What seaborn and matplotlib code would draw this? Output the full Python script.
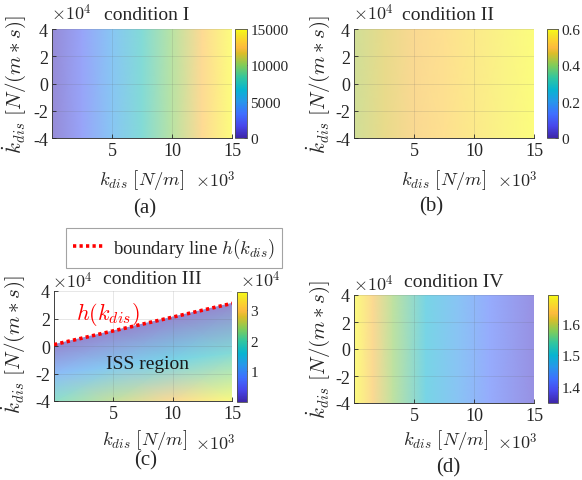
import numpy as np
import matplotlib
matplotlib.use("Agg")
import matplotlib.pyplot as plt
import seaborn as sns
from matplotlib.colors import LinearSegmentedColormap, Normalize
import matplotlib.cm as cm

sns.set_theme(style="white")
plt.rcParams['font.family'] = ['Liberation Serif', 'DejaVu Serif']
plt.rcParams['mathtext.fontset'] = 'cm'

# ---------------- data ----------------
kdot_nodes = [-40000, 40000]

# condition I
cond1_k = [0, 2500, 5000, 7500, 10000, 12500, 15000]
cond1_vals = [300, 2500, 5000, 7500, 10000, 12500, 15000]
# condition II
cond2_k = [0, 2500, 5000, 7500, 10000, 12500, 15000]
cond2_vals = [0.43, 0.46, 0.49, 0.52, 0.55, 0.575, 0.60]
# condition III
cond3_k = [0, 5000, 10000, 15000]
boundary_h = [1000, 11000, 21000, 31000]
cond3_mid_kdot = [-20000, -15000, -10000, -5000]
cond3_bottom = [20000, 25000, 30000, 35500]
cond3_mid = [10500, 13000, 15500, 18000]
cond3_top = [0, 0, 0, 0]
# condition IV
cond4_k = [0, 1600, 3250, 6000, 8800, 11300, 15000]
cond4_vals = [1.69, 1.63, 1.58, 1.50, 1.46, 1.42, 1.37]

clims = {"I": (0, 15000), "II": (0, 0.6), "III": (0, 36000), "IV": (1.35, 1.69)}
cbar_ticks = {"I": [0, 5000, 10000, 15000], "II": [0, 0.2, 0.4, 0.6],
              "III": [10000, 20000, 30000], "IV": [1.4, 1.5, 1.6]}
cbar_labels = {"I": ["0", "5000", "10000", "15000"], "II": ["0", "0.2", "0.4", "0.6"],
               "III": ["1", "2", "3"], "IV": ["1.4", "1.5", "1.6"]}
x_ticks = [5000, 10000, 15000]
x_ticklabels = ["5", "10", "15"]
y_ticks = [-40000, -20000, 0, 20000, 40000]
y_ticklabels = ["-4", "-2", "0", "2", "4"]

# ---------------- colormap (parula-like) ----------------
par_pos = [0.0, 0.111, 0.222, 0.333, 0.444, 0.556, 0.667, 0.778, 0.83, 0.89, 0.95, 1.0]
par_col = [(0.2422, 0.1504, 0.6603), (0.2803, 0.2782, 0.9221), (0.2440, 0.4358, 0.9988),
           (0.1540, 0.5902, 0.9218), (0.0297, 0.7082, 0.8163), (0.1938, 0.7758, 0.6251),
           (0.5044, 0.7993, 0.3480), (0.8634, 0.7406, 0.1596), (0.99, 0.73, 0.24),
           (0.9892, 0.8136, 0.1885), (0.96, 0.90, 0.15), (0.9769, 0.9839, 0.0805)]
parula = LinearSegmentedColormap.from_list("parula", list(zip(par_pos, par_col)))
ALPHA = 0.55
wash_col = [tuple(ALPHA * c + (1 - ALPHA) for c in col) for col in par_col]
parula_wash = LinearSegmentedColormap.from_list("parula_w", list(zip(par_pos, wash_col)))

W, H = 582, 481
fig = plt.figure(figsize=(W / 100, H / 100), dpi=100)


def fpos(l, t, r, b):
    return [l / W, 1 - b / H, (r - l) / W, (b - t) / H]


def ftext(x, y, s, **kw):
    fig.text(x / W, 1 - y / H, s, ha='center', va='center', **kw)


FS_T = 13
FS_CB = 11
FS_XL = 13.5
FS_YL = 15
FS_TITLE = 14


def style_axes(ax):
    ax.set_xlim(0, 15000)
    ax.set_ylim(-40000, 40000)
    ax.set_xticks(x_ticks)
    ax.set_xticklabels(x_ticklabels)
    ax.set_yticks(y_ticks)
    ax.set_yticklabels(y_ticklabels)
    ax.tick_params(bottom=True, left=True, direction='in', length=3, width=0.6,
                   labelsize=FS_T, colors='0.15', pad=3)
    for s in ['top', 'right']:
        ax.spines[s].set_visible(False)
    for s in ['left', 'bottom']:
        ax.spines[s].set_color('0.25')
        ax.spines[s].set_linewidth(0.7)
    ax.grid(True, color='0.4', alpha=0.18, lw=0.6)
    ax.set_axisbelow(False)
    ax.set_facecolor('white')


def add_cbar(rect, key):
    cax = fig.add_axes(rect)
    sm = cm.ScalarMappable(norm=Normalize(*clims[key]), cmap=parula)
    cb = fig.colorbar(sm, cax=cax)
    cb.set_ticks(cbar_ticks[key])
    cb.set_ticklabels(cbar_labels[key])
    cax.tick_params(direction='in', length=2.5, width=0.6, labelsize=FS_CB,
                    colors='0.15', pad=2.5, right=True)
    cb.outline.set_linewidth(0.6)
    cb.outline.set_edgecolor('0.3')
    return cb


def field(ax, ks, vals, key):
    X = np.array([ks, ks])
    Y = np.array([[kdot_nodes[0]] * len(ks), [kdot_nodes[1]] * len(ks)])
    C = np.array([vals, vals])
    ax.pcolormesh(X, Y, C, shading='gouraud', cmap=parula_wash,
                  norm=Normalize(*clims[key]), zorder=0.5)


ylab = r"$\dot{k}_{dis}\ [N/(m\ast s)]$"
xlab = r"$k_{dis}\ [N/m]$"
x4 = r"$\times10^4$"
x3 = r"$\times10^3$"

panels = [
    ("I", fpos(52, 30, 232, 139), fpos(235, 30, 247, 139), cond1_k, cond1_vals,
     (147, 15), (71, 14), (215, 181), (142, 180), (14, 85), (145, 209), "(a)"),
    ("II", fpos(354, 30, 534, 139), fpos(547, 30, 558, 139), cond2_k, cond2_vals,
     (448, 15), (373, 14), (517, 181), (444, 180), (318, 85), (431, 207), "(b)"),
    ("IV", fpos(354, 296, 534, 404), fpos(548, 296, 558, 404), cond4_k, cond4_vals,
     (454, 283), (373, 285), (517, 443), (446, 440), (318, 350), (448, 468), "(d)"),
]

for key, rect, crect, ks, vals, tpos, x4pos, x3pos, xlpos, ylpos, lpos, lab in panels:
    ax = fig.add_axes(rect)
    field(ax, ks, vals, key)
    style_axes(ax)
    add_cbar(crect, key)
    ftext(*tpos, f"condition {key}", fontsize=FS_TITLE)
    ftext(*x4pos, x4, fontsize=FS_T)
    ftext(*x3pos, x3, fontsize=FS_T)
    ftext(*xlpos, xlab, fontsize=FS_XL)
    ftext(*ylpos, ylab, fontsize=FS_YL, rotation=90)
    ftext(*lpos, lab, fontsize=15)

# ---------------- condition III ----------------
ax = fig.add_axes(fpos(54, 292, 232, 402))
X3 = np.array([cond3_k, cond3_k, cond3_k])
Y3 = np.array([[kdot_nodes[0]] * len(cond3_k), cond3_mid_kdot, boundary_h])
C3 = np.array([cond3_bottom, cond3_mid, cond3_top])
ax.pcolormesh(X3, Y3, C3, shading='gouraud', cmap=parula_wash,
              norm=Normalize(*clims["III"]), zorder=0.5)
sns.lineplot(x=cond3_k, y=boundary_h, ax=ax, color='red', lw=2.6,
             linestyle=(0, (0.9, 0.9)), label=r"boundary line $h(k_{dis})$", zorder=3)
handles, labels = ax.get_legend_handles_labels()
ax.get_legend().remove()
style_axes(ax)
add_cbar(fpos(237, 293, 247, 403), "III")
ftext(152, 280, "condition III", fontsize=FS_TITLE)
ftext(72, 282, x4, fontsize=FS_T)
ftext(260, 281, x4, fontsize=FS_T)
ftext(215, 444, x3, fontsize=FS_T)
ftext(145, 440, xlab, fontsize=FS_XL)
ftext(13, 345, ylab, fontsize=FS_YL, rotation=90)
ftext(146, 461, "(c)", fontsize=15)
ftext(108, 314, r"$h(k_{dis})$", fontsize=16, color='red')
ftext(148, 365, "ISS region", fontsize=FS_TITLE, color='0.1')

leg = fig.legend(handles, labels, loc='center',
                 bbox_to_anchor=(174 / W, 1 - 249 / H), fontsize=13.5,
                 frameon=True, fancybox=False, handlelength=1.6, handletextpad=0.5,
                 borderpad=0.4)
leg.get_frame().set_edgecolor('0.55')
leg.get_frame().set_linewidth(0.8)

fig.savefig("out.png", dpi=100)
